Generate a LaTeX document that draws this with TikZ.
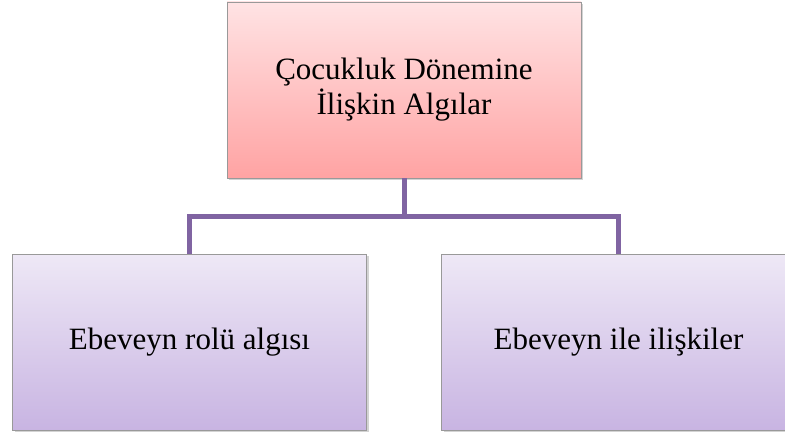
\documentclass[tikz,border=0pt]{standalone}
\usepackage{fontspec}
\setmainfont{Liberation Serif}
\usetikzlibrary{shadows}

\definecolor{pinktop}{HTML}{FFE3E4}
\definecolor{pinkbot}{HTML}{FFA3A3}
\definecolor{liltop}{HTML}{EEE8F6}
\definecolor{lilbot}{HTML}{C8B4E2}
\definecolor{linkpurple}{HTML}{8064A2}

\begin{document}
\begin{tikzpicture}[x=1pt,y=1pt,
		box/.style={draw=gray!80,line width=0.8pt,minimum width=354pt,minimum height=176pt,
			align=center,font=\fontsize{31}{35}\selectfont,
			drop shadow={shadow xshift=2pt,shadow yshift=-2pt,opacity=0.35}},
		topbox/.style={box,top color=pinktop,bottom color=pinkbot},
		subbox/.style={box,top color=liltop,bottom color=lilbot},
		link/.style={linkpurple,line width=5pt}]
		\useasboundingbox (0,0) rectangle (785,436);

		\node[topbox] (cocukluk) at (404,346) {Çocukluk Dönemine\\İlişkin Algılar};
		\node[subbox] (rol) at (189.5,93.5) {Ebeveyn rolü algısı};
		\node[subbox] (iliski) at (618.5,93.5) {Ebeveyn ile ilişkiler};

		\coordinate (bus) at (404,219);
		\draw[link] (cocukluk.south) -- (bus) -| (rol.north);
		\draw[link] (bus) -| (iliski.north);
	\end{tikzpicture}
\end{document}
